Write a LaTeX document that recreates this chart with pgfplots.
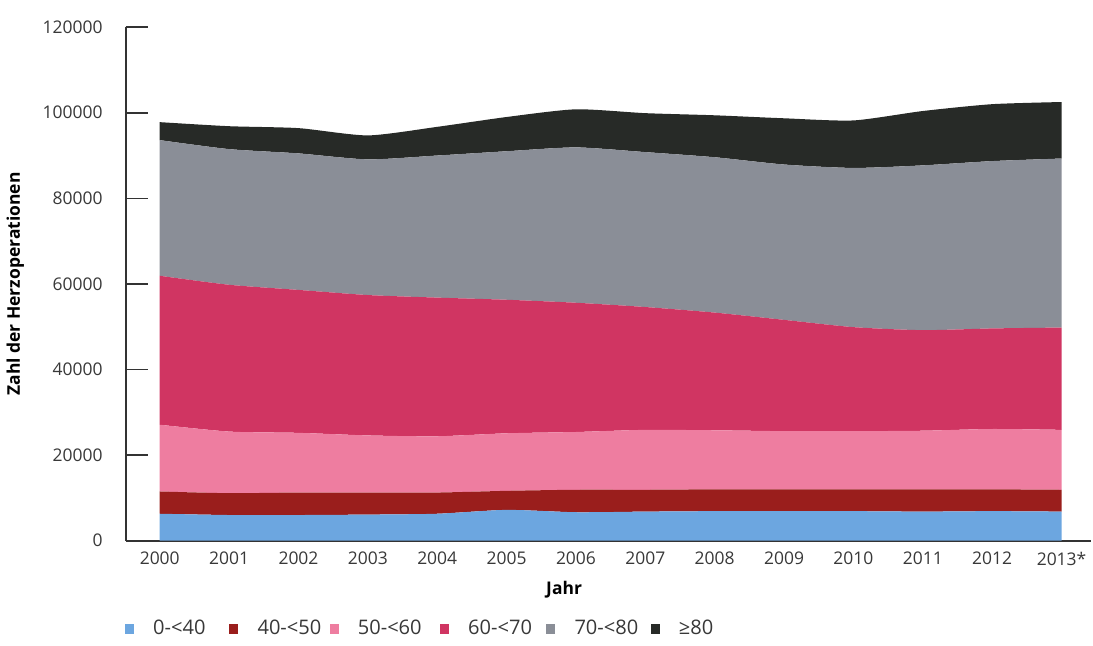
\documentclass[border=0pt]{standalone}
\usepackage{fontspec}
\setmainfont{Open Sans}
\usepackage{pgfplots}
\usepackage{pgfplotstable}
\pgfplotsset{compat=1.18}
\definecolor{cBlue}{HTML}{6CA6E0}
\definecolor{cDred}{HTML}{9A1E1C}
\definecolor{cPink}{HTML}{EE7DA0}
\definecolor{cCrim}{HTML}{D03562}
\definecolor{cGray}{HTML}{8A8E97}
\definecolor{cBlack}{HTML}{272A27}
\definecolor{tickgray}{HTML}{383838}
\pgfplotstableread{
year blue dred pink crim gray black
2000 6300 5200 15600 34800 31700 4200
2001 6000 5100 14400 34300 31700 5350
2002 6000 5250 13950 33400 31900 5900
2003 6100 5150 13350 32800 31700 5600
2004 6300 4950 13150 32400 33200 6700
2005 7200 4450 13450 31200 34700 8000
2006 6650 5250 13500 30200 36300 8900
2007 6800 5100 14000 28700 36200 9100
2008 6900 5100 13800 27500 36300 9800
2009 6900 5100 13600 26000 36300 10800
2010 6900 5100 13600 24300 37200 11100
2011 6800 5200 13700 23500 38500 12700
2012 6900 5100 14100 23500 39100 13300
2013 6800 5100 14000 23900 39500 13200
}\data
\begin{document}
\begin{tikzpicture}
\begin{axis}[
  scale only axis, width=481pt, height=256pt,
  xmin=1999.51, xmax=2013.42, ymin=0, ymax=120000,
  axis lines*=left,
  axis line style={draw=black!80, line width=0.8pt},
  stack plots=y,
  xtick={2000,2001,...,2013},
  xticklabels={2000,2001,2002,2003,2004,2005,2006,2007,2008,2009,2010,2011,2012,2013*},
  major x tick style={draw=none},
  ytick={0,20000,40000,60000,80000,100000,120000},
  yticklabels={0,20000,40000,60000,80000,100000,120000},
  scaled y ticks=false,
  tick align=inside, major tick length=11pt,
  every tick/.style={draw=black!80, line width=0.8pt},
  tick label style={font=\fontsize{8.7}{10}\selectfont, text=tickgray},
  x tick label style={yshift=-2pt},
  y tick label style={xshift=-8pt},
  every axis x label/.style={at={(axis description cs:0.5,0)}, anchor=center, yshift=-24.5pt, xshift=-22pt, font=\bfseries\fontsize{8.7}{10}\selectfont},
  every axis y label/.style={at={(axis description cs:0,0.5)}, rotate=90, anchor=center, yshift=55pt, font=\bfseries\fontsize{8.7}{10}\selectfont},
  xlabel={Jahr},
  ylabel={Zahl der Herzoperationen},
  legend style={draw=none, fill=none, at={(axis description cs:0,-0.172)}, anchor=west, xshift=-3.5pt, legend columns=6, font=\fontsize{10}{12}\selectfont, text=tickgray},
  legend image code/.code={\fill[#1] (0pt,-2.7pt) rectangle (4.5pt,2.7pt); \path[draw=none,fill=none] (0pt,0pt) -- (12pt,0pt);},
  every axis plot/.append style={draw=none, smooth, tension=0.4},
]
\addplot[fill=cBlue, draw=none] table[x=year, y=blue] {\data} \closedcycle;
\addlegendentry{\makebox[36pt][l]{0-<40}}
\addplot[fill=cDred, draw=none] table[x=year, y=dred] {\data} \closedcycle;
\addlegendentry{\makebox[34pt][l]{40-<50}}
\addplot[fill=cPink, draw=none] table[x=year, y=pink] {\data} \closedcycle;
\addlegendentry{\makebox[39pt][l]{50-<60}}
\addplot[fill=cCrim, draw=none] table[x=year, y=crim] {\data} \closedcycle;
\addlegendentry{\makebox[37pt][l]{60-<70}}
\addplot[fill=cGray, draw=none] table[x=year, y=gray] {\data} \closedcycle;
\addlegendentry{\makebox[36pt][l]{70-<80}}
\addplot[fill=cBlack, draw=none] table[x=year, y=black] {\data} \closedcycle;
\addlegendentry{\makebox[20pt][l]{≥80}}
\end{axis}
\path ([yshift=7pt]current axis.outer north east);
\end{tikzpicture}
\end{document}
